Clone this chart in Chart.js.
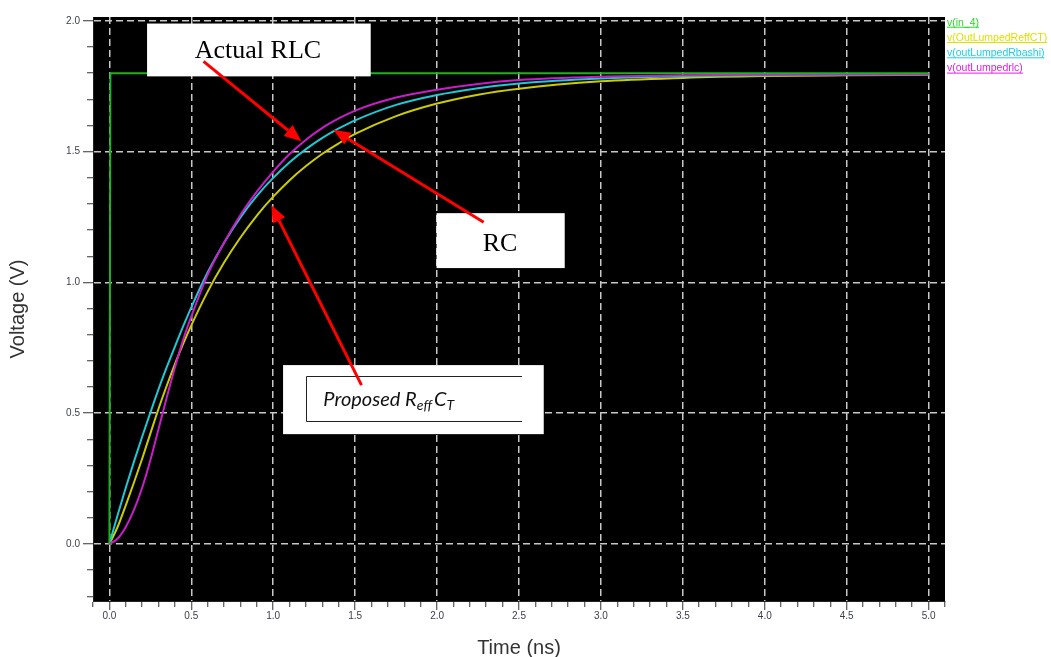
<!DOCTYPE html>
<html>
<head>
<meta charset="utf-8">
<script src="https://cdn.jsdelivr.net/npm/chart.js@4.4.1/dist/chart.umd.min.js"></script>
<style>
html,body{margin:0;padding:0;background:#fff;}
#wrap{width:1051px;height:657px;position:relative;}
</style>
</head>
<body>
<div id="wrap"><canvas id="c" width="1051" height="657"></canvas></div>
<script>
// ---------------- data ----------------
const seriesNames = ['v(in_4)', 'v(OutLumpedReffCT)', 'v(outLumpedRbashi)', 'v(outLumpedrlc)'];

// input step
const inTime = [0, 0.006, 5.0];
const vIn    = [0, 1.8, 1.8];

// sample times (ns) for the three output waveforms
const timeNs  = [0, 0.05, 0.1, 0.15, 0.2, 0.25, 0.3, 0.35, 0.4, 0.45, 0.5, 0.6, 0.7, 0.8, 0.9, 1.0, 1.1, 1.2, 1.3, 1.4, 1.5, 1.75, 2.0, 2.25, 2.5, 3.0, 3.5, 4.0, 4.5, 5.0];
const vReffCT = [0, 0.065, 0.148, 0.235, 0.326, 0.422, 0.517, 0.605, 0.688, 0.765, 0.836, 0.965, 1.076, 1.172, 1.256, 1.328, 1.391, 1.445, 1.492, 1.532, 1.568, 1.636, 1.684, 1.718, 1.741, 1.769, 1.782, 1.789, 1.792, 1.794];
const vRbashi = [0, 0.11, 0.215, 0.315, 0.41, 0.502, 0.592, 0.676, 0.755, 0.832, 0.905, 1.039, 1.152, 1.249, 1.331, 1.400, 1.460, 1.510, 1.553, 1.589, 1.620, 1.679, 1.717, 1.743, 1.761, 1.780, 1.788, 1.792, 1.794, 1.795];
const vRlc    = [0, 0.02, 0.065, 0.13, 0.215, 0.32, 0.44, 0.56, 0.675, 0.78, 0.87, 1.03, 1.152, 1.258, 1.347, 1.424, 1.491, 1.546, 1.591, 1.627, 1.657, 1.707, 1.737, 1.759, 1.774, 1.787, 1.792, 1.794, 1.795, 1.795];

// axis ranges / tick steps
const xRange = [-0.1, 5.1];
const yRange = [-0.218, 2.015];
const minorStep = 0.1;
const majorStep = 0.5;

// annotation texts
const noteActual = 'Actual RLC';
const noteRC = 'RC';
const noteProposed = ['Proposed ', 'R', 'eff', 'C', 'T'];

// ---------------- styles ----------------
const lineColors   = ['#20b020', '#cccc00', '#1ec8d4', '#c81ec8'];
const legendColors = ['#2ad82a', '#e0e000', '#1ecfe6', '#e020e0'];
const drawOrder    = [0, 3, 2, 1];
const gridColor = '#c8c8c8';
const tickTextColor = '#3a3f48';
const sansFamily = '"Liberation Sans", Arial, sans-serif';

// annotation geometry in data coordinates (time ns, voltage V)
const notes = {
  boxes: [
    {t0: 0.230, t1: 1.595, v0: 1.990, v1: 1.788},
    {t0: 1.997, t1: 2.779, v0: 1.265, v1: 1.055},
    {t0: 1.060, t1: 2.651, v0: 0.684, v1: 0.420}
  ],
  frame: {t0: 1.202, t1: 2.517, v0: 0.643, v1: 0.470},
  textActual: {t: 0.521, v: 1.860},
  textRC: {t: 2.278, v: 1.120},
  textProposed: {t: 1.306, v: 0.5285},
  arrows: [
    {from: [0.5746, 1.8456], to: [1.1718, 1.5399]},
    {from: [2.2842, 1.2304], to: [1.3673, 1.5839]},
    {from: [1.5385, 0.6076], to: [0.9884, 1.2954]}
  ]
};

// ---------------- helpers ----------------
const pts = (xs, ys) => xs.map((x, i) => ({x: x, y: ys[i]}));
const isMajor = v => Math.abs(v / majorStep - Math.round(v / majorStep)) < 1e-6;
const fmt = v => {
  const r = Math.round(v * 10) / 10;
  return (Math.abs(r) < 1e-9 ? 0 : r).toFixed(1);
};

const bgPlugin = {
  id: 'bg',
  beforeDraw(chart) {
    const {ctx, chartArea: a} = chart;
    ctx.save();
    ctx.fillStyle = '#ffffff';
    ctx.fillRect(0, 0, chart.width, chart.height);
    ctx.fillStyle = '#000000';
    ctx.fillRect(a.left, a.top, a.right - a.left, a.bottom - a.top);
    ctx.restore();
  }
};

const legendPlugin = {
  id: 'sideLegend',
  afterDraw(chart) {
    const {ctx, chartArea: a} = chart;
    ctx.save();
    ctx.font = '10.5px ' + sansFamily;
    ctx.textBaseline = 'alphabetic';
    ctx.textAlign = 'left';
    chart.data.datasets.forEach((ds, i) => {
      const x = a.right + 2;
      const y = a.top + 8.5 + i * 15.3;
      ctx.fillStyle = legendColors[i];
      ctx.fillText(ds.label, x, y);
      const w = ctx.measureText(ds.label).width;
      ctx.fillRect(x, y + 1.2, w, 1);
    });
    ctx.restore();
  }
};

function arrow(ctx, x1, y1, x2, y2) {
  const ang = Math.atan2(y2 - y1, x2 - x1);
  const hl = 17, hw = 7;
  const bx = x2 - hl * Math.cos(ang), by = y2 - hl * Math.sin(ang);
  ctx.beginPath();
  ctx.moveTo(x1, y1);
  ctx.lineTo(bx, by);
  ctx.stroke();
  ctx.beginPath();
  ctx.moveTo(x2, y2);
  ctx.lineTo(bx + hw * Math.sin(ang), by - hw * Math.cos(ang));
  ctx.lineTo(bx - hw * Math.sin(ang), by + hw * Math.cos(ang));
  ctx.closePath();
  ctx.fill();
}

const notePlugin = {
  id: 'notes',
  afterDraw(chart) {
    const {ctx} = chart;
    const X = chart.scales.x, Y = chart.scales.y;
    const px = t => X.getPixelForValue(t);
    const py = v => Y.getPixelForValue(v);
    ctx.save();
    // white boxes
    ctx.fillStyle = '#ffffff';
    notes.boxes.forEach(b => {
      ctx.fillRect(px(b.t0), py(b.v0), px(b.t1) - px(b.t0), py(b.v1) - py(b.v0));
    });
    // inner frame (open on the right)
    const f = notes.frame;
    ctx.strokeStyle = '#222';
    ctx.lineWidth = 1;
    ctx.beginPath();
    ctx.moveTo(Math.round(px(f.t1)), Math.round(py(f.v0)) + 0.5);
    ctx.lineTo(Math.round(px(f.t0)) + 0.5, Math.round(py(f.v0)) + 0.5);
    ctx.lineTo(Math.round(px(f.t0)) + 0.5, Math.round(py(f.v1)) + 0.5);
    ctx.lineTo(Math.round(px(f.t1)), Math.round(py(f.v1)) + 0.5);
    ctx.stroke();
    // serif labels
    ctx.fillStyle = '#000';
    ctx.textBaseline = 'alphabetic';
    ctx.textAlign = 'left';
    ctx.font = '26px "Liberation Serif", "Times New Roman", serif';
    ctx.fillText(noteActual, px(notes.textActual.t), py(notes.textActual.v));
    ctx.fillText(noteRC, px(notes.textRC.t), py(notes.textRC.v));
    // italic proposed label with subscripts
    let x = px(notes.textProposed.t);
    const y = py(notes.textProposed.v);
    const big = 'italic 20px Lato, "Open Sans", sans-serif';
    const small = 'italic 14px Lato, "Open Sans", sans-serif';
    ctx.fillStyle = '#111';
    const parts = [
      [noteProposed[0], big, 0], [noteProposed[1], big, 0], [noteProposed[2], small, 4],
      [noteProposed[3], big, 0], [noteProposed[4], small, 4]
    ];
    parts.forEach(([s, font, dy], i) => {
      ctx.font = font;
      ctx.fillText(s, x, y + dy);
      x += ctx.measureText(s).width + (i === 2 ? 2 : 0);
    });
    // red arrows
    ctx.strokeStyle = '#ff0000';
    ctx.fillStyle = '#ff0000';
    ctx.lineWidth = 3;
    ctx.lineCap = 'butt';
    notes.arrows.forEach(a => {
      arrow(ctx, px(a.from[0]), py(a.from[1]), px(a.to[0]), py(a.to[1]));
    });
    ctx.restore();
  }
};

const waveforms = [
  pts(inTime, vIn),
  pts(timeNs, vReffCT),
  pts(timeNs, vRbashi),
  pts(timeNs, vRlc)
];

new Chart(document.getElementById('c'), {
  type: 'line',
  data: {
    datasets: waveforms.map((d, i) => ({
      label: seriesNames[i],
      data: d,
      borderColor: lineColors[i],
      backgroundColor: lineColors[i],
      borderWidth: 2,
      pointRadius: 0,
      fill: false,
      tension: 0,
      cubicInterpolationMode: i === 0 ? 'default' : 'monotone',
      order: drawOrder[i]
    }))
  },
  options: {
    responsive: false,
    animation: false,
    devicePixelRatio: 1,
    events: [],
    layout: {padding: {top: 17, right: 106, bottom: 0, left: 0}},
    plugins: {legend: {display: false}, tooltip: {enabled: false}},
    scales: {
      x: {
        type: 'linear',
        min: xRange[0], max: xRange[1],
        afterFit: s => { s.height = 56; },
        ticks: {
          stepSize: minorStep, includeBounds: false, autoSkip: false,
          maxRotation: 0, minRotation: 0, padding: 0,
          color: tickTextColor, font: {size: 10, family: sansFamily},
          callback: v => isMajor(v) ? fmt(v) : ''
        },
        grid: {
          color: c => (c.tick && isMajor(c.tick.value)) ? gridColor : 'rgba(0,0,0,0)',
          lineWidth: 1.5,
          tickColor: '#333', tickWidth: 1, tickLength: 9,
          tickBorderDash: c => (c.tick && isMajor(c.tick.value)) ? [] : [5, 20]
        },
        border: {display: true, color: '#222', width: 1, dash: [7, 4]},
        title: {
          display: true, text: 'Time (ns)', color: '#333',
          font: {size: 20, family: sansFamily, lineHeight: 0.9},
          padding: {top: 0, bottom: 0}
        }
      },
      y: {
        type: 'linear',
        min: yRange[0], max: yRange[1],
        afterFit: s => { s.width = 93; },
        ticks: {
          stepSize: minorStep, includeBounds: false, autoSkip: false, padding: 3,
          color: tickTextColor, font: {size: 10, family: sansFamily},
          callback: v => isMajor(v) ? fmt(v) : ''
        },
        grid: {
          color: c => (c.tick && isMajor(c.tick.value)) ? gridColor : 'rgba(0,0,0,0)',
          lineWidth: 1.5,
          tickColor: '#333', tickWidth: 1, tickLength: 10,
          tickBorderDash: c => (c.tick && isMajor(c.tick.value)) ? [] : [0, 4, 6, 20]
        },
        border: {display: true, color: '#222', width: 1, dash: [7, 4]},
        title: {
          display: true, text: 'Voltage (V)', color: '#333',
          font: {size: 20, family: sansFamily, lineHeight: 1.2},
          padding: {top: 6, bottom: 0}
        }
      }
    }
  },
  plugins: [bgPlugin, legendPlugin, notePlugin]
});
</script>
</body>
</html>
